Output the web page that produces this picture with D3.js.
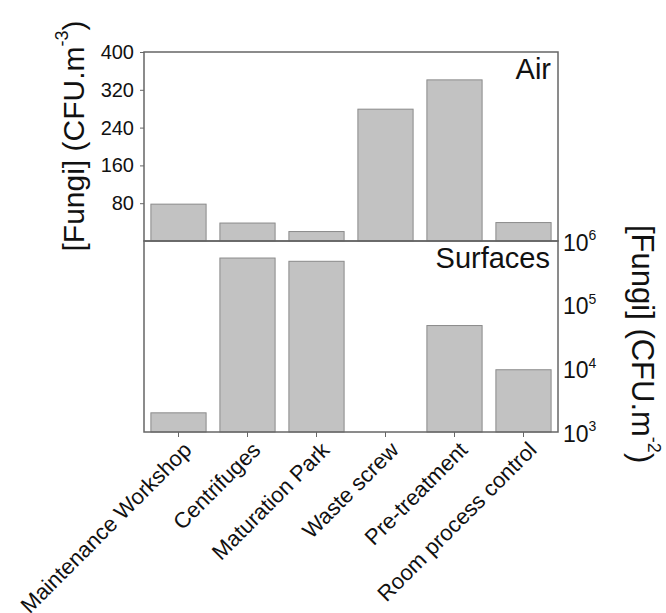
<!DOCTYPE html>
<html>
<head>
	<meta charset="utf-8">
	<title>Fungi</title>
	<script src="https://d3js.org/d3.v7.min.js"></script>
	<style>
		body { margin: 0; background: #fff; }
		text { font-family: "Liberation Sans", Arial, sans-serif; fill: #111; }
	</style>
</head>
<body>
<script>
	// dados
	var categories = ["Maintenance Workshop", "Centrifuges", "Maturation Park", "Waste screw", "Pre-treatment", "Room process control"];
	var airValues = [78, 38, 20, 279, 341, 39];              // CFU.m-3
	var surfaceValues = [2000, 540000, 480000, null, 47000, 9500]; // CFU.m-2
	var airTicks = [80, 160, 240, 320, 400];
	var surfaceTicks = [1e3, 1e4, 1e5, 1e6];

	var svgWidth = 666, svgHeight = 613;
	var plotLeft = 144, plotRight = 558, plotTop = 52, plotMid = 241, plotBottom = 432;
	var axisColor = "#666";

	var svg = d3.select("body").append("svg")
		.attr("width", svgWidth)
		.attr("height", svgHeight);

	var x = d3.scaleBand().domain(categories).range([plotLeft, plotRight])
		.paddingInner(0.2).paddingOuter(0.1);
	var yAir = d3.scaleLinear().domain([0, 400]).range([plotMid, plotTop]);
	var ySurf = d3.scaleLog().domain([1e3, 1e6]).range([plotBottom, plotMid]);

	// barras do ar
	svg.append("g").selectAll("rect")
		.data(categories)
		.enter().append("rect")
		.attr("x", function(d) { return x(d); })
		.attr("width", x.bandwidth())
		.attr("y", function(d, i) { return yAir(airValues[i]); })
		.attr("height", function(d, i) { return plotMid - yAir(airValues[i]); })
		.attr("fill", "#c2c2c2")
		.attr("stroke", "#8a8a8a")
		.attr("stroke-width", 1);

	// barras das superficies (sem valor = sem barra)
	svg.append("g").selectAll("rect")
		.data(categories.filter(function(d, i) { return surfaceValues[i] != null; }))
		.enter().append("rect")
		.attr("x", function(d) { return x(d); })
		.attr("width", x.bandwidth())
		.attr("y", function(d) { return ySurf(surfaceValues[categories.indexOf(d)]); })
		.attr("height", function(d) { return plotBottom - ySurf(surfaceValues[categories.indexOf(d)]); })
		.attr("fill", "#c2c2c2")
		.attr("stroke", "#8a8a8a")
		.attr("stroke-width", 1);

	// molduras dos dois paineis
	[[plotTop, plotMid], [plotMid, plotBottom]].forEach(function(p) {
		svg.append("rect")
			.attr("x", plotLeft).attr("y", p[0])
			.attr("width", plotRight - plotLeft).attr("height", p[1] - p[0])
			.attr("fill", "none")
			.attr("stroke", axisColor)
			.attr("stroke-width", 1.5);
	});

	// eixo y esquerdo (ar)
	var yAxisAir = svg.append("g")
		.attr("transform", "translate(" + plotLeft + ",0)")
		.call(d3.axisLeft(yAir).tickValues(airTicks).tickSize(4).tickPadding(6));
	yAxisAir.select(".domain").remove();
	yAxisAir.selectAll("line").attr("stroke", axisColor);
	yAxisAir.selectAll("text").style("font-size", "20px").attr("fill", "#111");

	// eixo y direito (superficies, log)
	var yAxisSurf = svg.append("g")
		.attr("transform", "translate(" + plotRight + ",0)")
		.call(d3.axisRight(ySurf).tickValues(surfaceTicks).tickSize(0).tickPadding(5).tickFormat(""));
	yAxisSurf.select(".domain").remove();
	yAxisSurf.selectAll(".tick text")
		.style("font-size", "23px")
		.attr("fill", "#111")
		.attr("dy", "0.4em")
		.each(function(d) {
			var t = d3.select(this);
			t.append("tspan").text("10");
			t.append("tspan").text(Math.round(Math.log10(d)))
				.style("font-size", "14px")
				.attr("dy", "-0.75em");
		});

	// eixo x
	var xAxis = svg.append("g")
		.attr("transform", "translate(0," + plotBottom + ")")
		.call(d3.axisBottom(x).tickSize(5).tickPadding(4));
	xAxis.select(".domain").remove();
	xAxis.selectAll("line").attr("stroke", axisColor);
	xAxis.selectAll("text")
		.style("font-size", "22px")
		.attr("fill", "#111")
		.attr("text-anchor", "end")
		.attr("dy", "0")
		.attr("transform", "translate(8,13) rotate(-45)");

	// rotulos dos paineis
	svg.append("text").text("Air")
		.attr("x", 551).attr("y", 79)
		.attr("text-anchor", "end")
		.style("font-size", "29px");
	svg.append("text").text("Surfaces")
		.attr("x", 550).attr("y", 268)
		.attr("text-anchor", "end")
		.style("font-size", "29px");

	// titulos dos eixos
	var tl = svg.append("text")
		.attr("transform", "translate(84,136) rotate(-90)")
		.attr("text-anchor", "middle")
		.style("font-size", "30px");
	tl.append("tspan").text("[Fungi] (CFU.m");
	tl.append("tspan").text("-3").style("font-size", "18px").attr("dy", "-0.9em");
	tl.append("tspan").text(")").attr("dy", "0.55em");

	var tr = svg.append("text")
		.attr("transform", "translate(632,225) rotate(90)")
		.attr("text-anchor", "start")
		.style("font-size", "31px");
	tr.append("tspan").text("[Fungi] (CFU.m");
	tr.append("tspan").text("-2").style("font-size", "18px").attr("dy", "-0.9em");
	tr.append("tspan").text(")").attr("dy", "0.55em");
</script>
</body>
</html>
